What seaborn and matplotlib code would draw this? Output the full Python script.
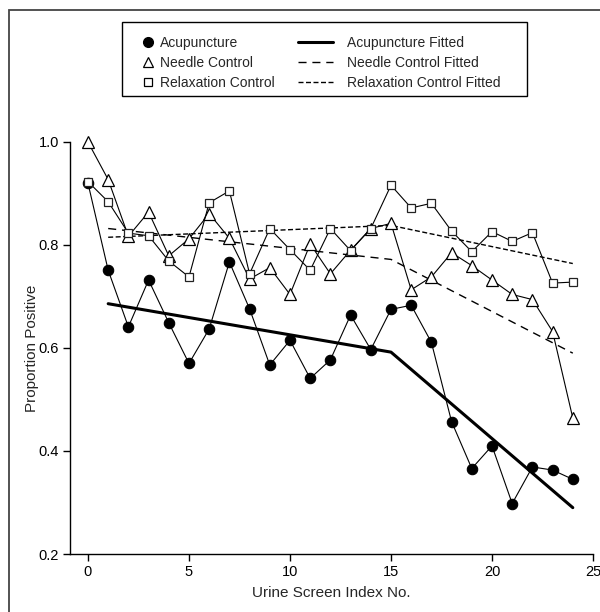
import numpy as np
import pandas as pd
import seaborn as sns
import matplotlib.pyplot as plt
from matplotlib.lines import Line2D
from matplotlib.patches import Rectangle

# data
screen_idx = list(range(25))
acupuncture = [0.920, 0.751, 0.641, 0.732, 0.649, 0.570, 0.637, 0.767, 0.676, 0.567,
               0.615, 0.541, 0.577, 0.664, 0.597, 0.675, 0.683, 0.611, 0.457, 0.366,
               0.410, 0.298, 0.369, 0.363, 0.345]
needle = [1.000, 0.927, 0.817, 0.864, 0.779, 0.812, 0.861, 0.813, 0.734, 0.756,
          0.704, 0.802, 0.744, 0.790, 0.832, 0.842, 0.713, 0.738, 0.785, 0.760,
          0.732, 0.704, 0.694, 0.632, 0.464]
relaxation = [0.923, 0.884, 0.823, 0.818, 0.769, 0.738, 0.882, 0.905, 0.744, 0.832,
              0.791, 0.751, 0.832, 0.789, 0.832, 0.916, 0.872, 0.881, 0.827, 0.787,
              0.826, 0.807, 0.824, 0.726, 0.728]

# fitted piecewise lines (knots at 1, 15, 24)
fit_x = [1, 15, 24]
acup_fit = [0.686, 0.592, 0.290]
needle_fit = [0.832, 0.772, 0.590]
relax_fit = [0.815, 0.838, 0.764]

x_ticks = [0, 5, 10, 15, 20, 25]
y_ticks = [0.2, 0.4, 0.6, 0.8, 1.0]

sns.set_style("ticks")
plt.rcParams['font.family'] = ['Liberation Sans', 'DejaVu Sans']

W, H = 600, 612
fig = plt.figure(figsize=(W / 100, H / 100), dpi=100)
ax = fig.add_axes([70 / W, (H - 554) / H, (593 - 70) / W, (554 - 142) / H])

LONG = (0, (5.8, 4.2))
SHORT = (0, (3.6, 1.8))

# fitted lines
sns.lineplot(x=fit_x, y=acup_fit, ax=ax, color='black', linewidth=2.2)
sns.lineplot(x=fit_x, y=needle_fit, ax=ax, color='black', linewidth=1.0, linestyle=LONG)
sns.lineplot(x=fit_x, y=relax_fit, ax=ax, color='black', linewidth=1.0, linestyle=SHORT)

# observed proportions
sns.lineplot(x=screen_idx, y=acupuncture, ax=ax, color='black', linewidth=0.8,
             marker='o', markersize=7.5, markerfacecolor='black',
             markeredgecolor='black', markeredgewidth=0.8, clip_on=False)
sns.lineplot(x=screen_idx, y=needle, ax=ax, color='black', linewidth=0.8,
             marker='^', markersize=9, markerfacecolor='white',
             markeredgecolor='black', markeredgewidth=0.9, clip_on=False)
sns.lineplot(x=screen_idx, y=relaxation, ax=ax, color='black', linewidth=0.8,
             marker='s', markersize=6, markerfacecolor='white',
             markeredgecolor='#222222', markeredgewidth=0.9, clip_on=False)

ax.set_xlim(-0.89, 25)
ax.set_ylim(0.2, 1.0)
ax.set_xticks(x_ticks)
ax.set_yticks(y_ticks)
ax.set_yticklabels([f"{v:.1f}" for v in y_ticks])
ax.tick_params(direction='out', length=5, width=1, colors='black', labelsize=10.5, pad=3)
ax.spines['top'].set_visible(False)
ax.spines['right'].set_visible(False)
for s in ['left', 'bottom']:
    ax.spines[s].set_linewidth(1.0)
    ax.spines[s].set_color('black')
ax.spines['left'].set_bounds(0.2, 1.0)
ax.set_xlabel('Urine Screen Index No.', fontsize=11, labelpad=5)
ax.set_ylabel('Proportion Positive', fontsize=11, labelpad=-0.5)

# legend: two columns drawn as separate legends inside one frame
fs = 10
marker_handles = [
    Line2D([], [], linestyle='none', marker='o', markersize=7, color='black'),
    Line2D([], [], linestyle='none', marker='^', markersize=7, markerfacecolor='white',
           markeredgecolor='black', markeredgewidth=0.9),
    Line2D([], [], linestyle='none', marker='s', markersize=5.5, markerfacecolor='white',
           markeredgecolor='black', markeredgewidth=0.9),
]
line_handles = [
    Line2D([], [], color='black', linewidth=2.2),
    Line2D([], [], color='black', linewidth=1.0, linestyle=LONG),
    Line2D([], [], color='black', linewidth=1.0, linestyle=SHORT),
]
fig.legend(marker_handles, ['Acupuncture', 'Needle Control', 'Relaxation Control'],
           loc='upper left', bbox_to_anchor=(142 / W, (H - 36) / H), frameon=False,
           borderpad=0, borderaxespad=0, handlelength=0.8, handletextpad=0.5,
           labelspacing=0.44, fontsize=fs)
fig.legend(line_handles, ['Acupuncture Fitted', 'Needle Control Fitted',
                          'Relaxation Control Fitted'],
           loc='upper left', bbox_to_anchor=(298 / W, (H - 36) / H), frameon=False,
           borderpad=0, borderaxespad=0, handlelength=2.5, handletextpad=1.0,
           labelspacing=0.44, fontsize=fs)
fig.patches.append(Rectangle((122 / W, (H - 96) / H), 405 / W, 74 / H,
                             transform=fig.transFigure, fill=False,
                             edgecolor='black', linewidth=1.0))

# outer frame of the figure panel
fig.patches.append(Rectangle((9 / W, -0.05), 1.2, (H - 10) / H + 0.05,
                             transform=fig.transFigure, fill=False,
                             edgecolor='#444444', linewidth=1.3))

fig.savefig('out.png', dpi=100)
